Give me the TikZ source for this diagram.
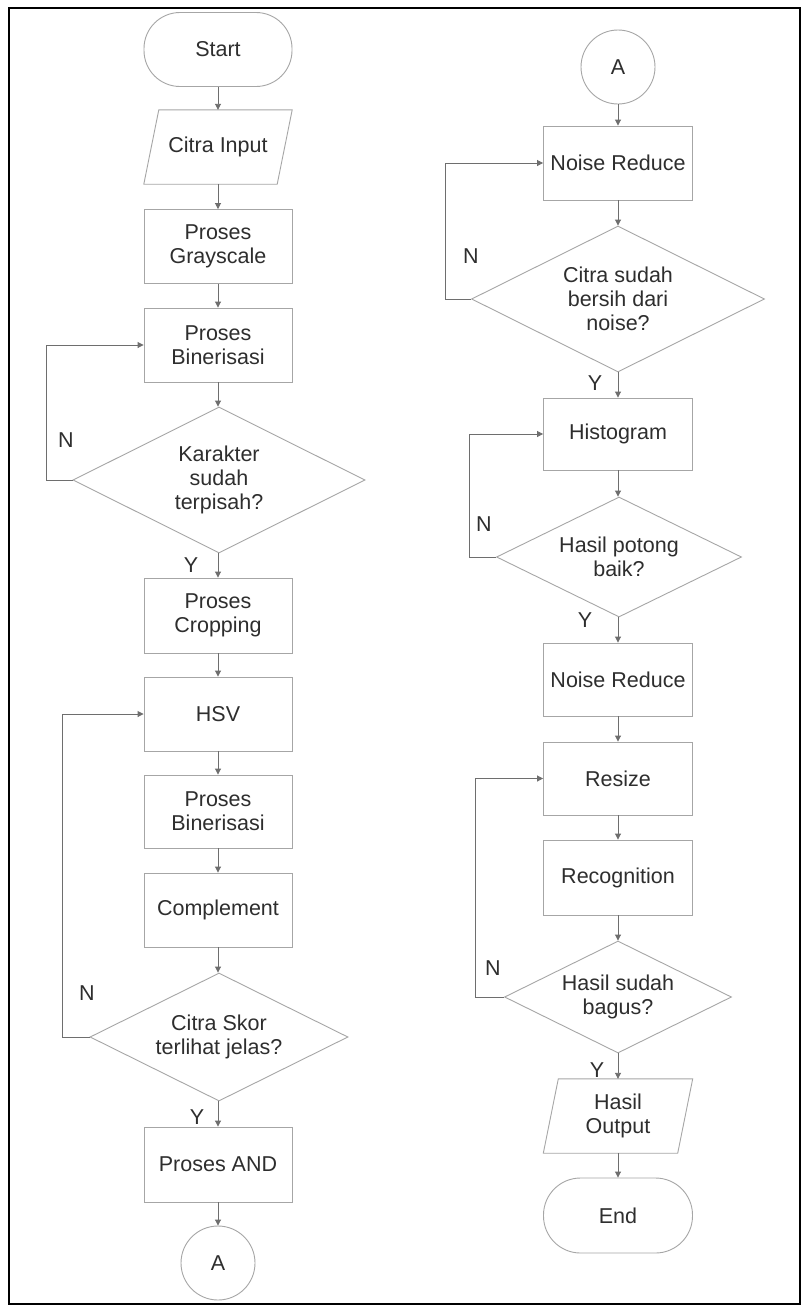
\documentclass[tikz,border=0pt]{standalone}
\usepackage{fontspec}
\setmainfont{Liberation Sans}
\usetikzlibrary{shapes.geometric,arrows.meta,calc}
\definecolor{boxc}{HTML}{A6A6A6}
\definecolor{arrc}{HTML}{6E6E6E}
\definecolor{txtc}{HTML}{2E2E2E}
\begin{document}
\begin{tikzpicture}[x=1pt,y=-1pt,
  every node/.style={text=txtc,font=\fontsize{21.5}{24}\selectfont,align=center},
  procbox/.style={rectangle,draw=boxc,line width=0.9pt,minimum width=148pt,minimum height=74pt,inner sep=0pt},
  termbox/.style={rectangle,draw=boxc,line width=0.9pt,rounded corners=36pt,minimum width=148pt,minimum height=74pt,inner sep=0pt},
  iobox/.style={rectangle,draw=none,minimum width=148pt,minimum height=74pt,inner sep=0pt},
  decbox/.style={diamond,draw=boxc,line width=0.9pt,inner sep=0pt,aspect=2},
  conn/.style={circle,draw=boxc,line width=0.9pt,minimum size=74pt,inner sep=0pt},
  arr/.style={draw=arrc,line width=0.9pt,-{Triangle[length=6pt,width=6pt]}},
  lbl/.style={text=txtc,font=\fontsize{21.5}{24}\selectfont}
]
\useasboundingbox (0,0) rectangle (803,1309);
\fill[white] (0,0) rectangle (803,1309);
\draw[line width=2pt,black] (9,8) rectangle (800,1304);

% left column
\node[termbox] (start) at (218,49.5) {Start};
\node[iobox] (in) at (218,147) {Citra Input};
\draw[boxc,line width=0.9pt] ([xshift=15pt]in.north west) -- (in.north east) -- ([xshift=-15pt]in.south east) -- (in.south west) -- cycle;
\node[procbox] (gray) at (218,246.5) {Proses\\Grayscale};
\node[procbox] (bin1) at (218,345) {Proses\\Binerisasi};
\node[decbox,minimum width=292pt,minimum height=146pt] (d1) at (219,480) {Karakter\\sudah\\terpisah?};
\node[procbox,minimum height=75pt] (crop) at (218,615.5) {Proses\\Cropping};
\node[procbox] (hsv) at (218,714) {HSV};
\node[procbox,minimum height=73pt] (bin2) at (218,811.5) {Proses\\Binerisasi};
\node[procbox] (comp) at (218,910) {Complement};
\node[decbox,minimum width=258pt,minimum height=128pt] (d2) at (219,1037) {Citra Skor\\terlihat jelas?};
\node[procbox,minimum height=75pt] (and) at (218,1164.5) {Proses AND};
\node[conn] (a1) at (218,1263) {A};

% right column
\node[conn] (a2) at (618,67) {A};
\node[procbox,minimum width=149pt] (nr1) at (618,163) {Noise Reduce};
\node[decbox,minimum width=293pt,minimum height=146pt] (d3) at (618,299) {Citra sudah\\bersih dari\\noise?};
\node[procbox,minimum width=149pt,minimum height=72pt] (hist) at (618,434) {Histogram};
\node[decbox,minimum width=245pt,minimum height=120pt] (d4) at (619,557) {Hasil potong\\baik?};
\node[procbox,minimum width=149pt,minimum height=73pt] (nr2) at (618,679.5) {Noise Reduce};
\node[procbox,minimum width=149pt,minimum height=73pt] (res) at (618,778.5) {Resize};
\node[procbox,minimum width=149pt,minimum height=75pt] (rec) at (618,877.5) {Recognition};
\node[decbox,minimum width=227pt,minimum height=112pt] (d5) at (618,997) {Hasil sudah\\bagus?};
\node[iobox,minimum width=149pt] (out) at (618,1116) {Hasil\\Output};
\draw[boxc,line width=0.9pt] ([xshift=15pt]out.north west) -- (out.north east) -- ([xshift=-15pt]out.south east) -- (out.south west) -- cycle;
\node[termbox,minimum width=149pt,minimum height=75pt,rounded corners=37pt] (end) at (618,1215.5) {End};

% straight arrows
\draw[arr] (start.south) -- (in.north);
\draw[arr] (in.south) -- (gray.north);
\draw[arr] (gray.south) -- (bin1.north);
\draw[arr] (bin1.south) -- (bin1.south |- d1.north);
\draw[arr] (d1.south -| crop.north) -- (crop.north);
\draw[arr] (crop.south) -- (hsv.north);
\draw[arr] (hsv.south) -- (bin2.north);
\draw[arr] (bin2.south) -- (comp.north);
\draw[arr] (comp.south) -- (comp.south |- d2.north);
\draw[arr] (d2.south -| and.north) -- (and.north);
\draw[arr] (and.south) -- (a1.north);

\draw[arr] (a2.south) -- (nr1.north);
\draw[arr] (nr1.south) -- (d3.north);
\draw[arr] (d3.south) -- (hist.north);
\draw[arr] (hist.south) -- (hist.south |- d4.north);
\draw[arr] (d4.south -| nr2.north) -- (nr2.north);
\draw[arr] (nr2.south) -- (res.north);
\draw[arr] (res.south) -- (rec.north);
\draw[arr] (rec.south) -- (d5.north);
\draw[arr] (d5.south) -- (out.north);
\draw[arr] (out.south) -- (end.north);

% loops
\draw[arr] (d1.west) -- ++(-26,0) |- (bin1.west);
\draw[arr] (d2.west) -- ++(-27,0) |- (hsv.west);
\draw[arr] (d3.west) -- ++(-26,0) |- (nr1.west);
\draw[arr] (d4.west) -- ++(-27,0) |- (hist.west);
\draw[arr] (d5.west) -- ++(-29,0) |- (res.west);

% labels
\node[lbl] (n1) at (66,440) {N};
\node[lbl] (n2) at (87,993) {N};
\node[lbl] (n3) at (471,256) {N};
\node[lbl] (n4) at (484,524) {N};
\node[lbl] (n5) at (493,968) {N};
\node[lbl] (y1) at (191,565) {Y};
\node[lbl] (y2) at (197,1117) {Y};
\node[lbl] (y3) at (595,383) {Y};
\node[lbl] (y4) at (585,620) {Y};
\node[lbl] (y5) at (597,1070) {Y};
\end{tikzpicture}
\end{document}
